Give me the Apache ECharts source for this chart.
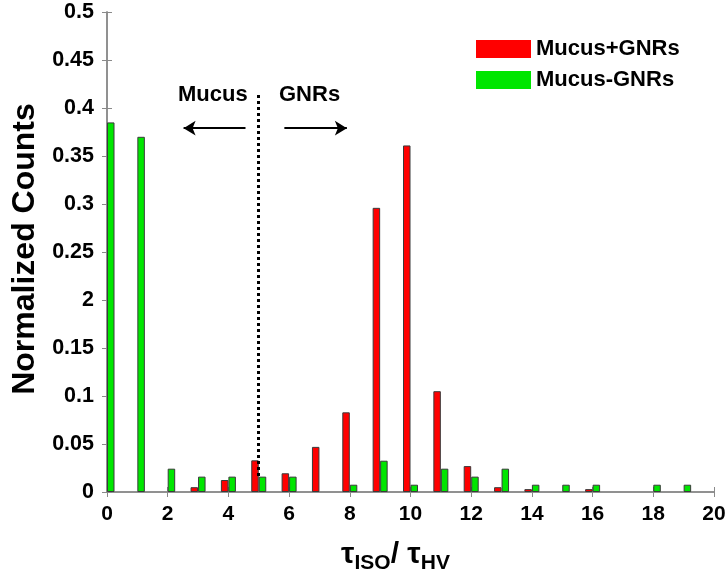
<!DOCTYPE html>
<html>
<head>
<meta charset="utf-8">
<title>Normalized Counts</title>
<script src="https://cdn.jsdelivr.net/npm/echarts@6/dist/echarts.min.js"></script>
<style>
  html, body { margin: 0; padding: 0; background: #fff; }
  #main { width: 728px; height: 573px; }
</style>
</head>
<body>
<div id="main"></div>
<script>
// tau ratio bins
var bins = [0, 1, 2, 3, 4, 5, 6, 7, 8, 9, 10, 11, 12, 13, 14, 15, 16, 17, 18, 19];
// Mucus+GNRs
var withGNRs = [0, 0, 0, 0.005, 0.0125, 0.033, 0.0195, 0.047, 0.083, 0.296,
                0.361, 0.105, 0.027, 0.005, 0.003, 0, 0.003, 0, 0, 0];
// Mucus-GNRs
var withoutGNRs = [0.385, 0.370, 0.0243, 0.016, 0.016, 0.016, 0.016, 0, 0.0076, 0.0326,
                   0.0076, 0.0243, 0.016, 0.0243, 0.0076, 0.0076, 0.0076, 0, 0.0076, 0.0076];
// y tick labels as printed (the 0.2 tick reads "2" in the original)
var yTickLabels = ['0', '0.05', '0.1', '0.15', '2', '0.25', '0.3', '0.35', '0.4', '0.45', '0.5'];

function pairs(vals) {
  return bins.map(function (b, i) { return vals[i] ? [b, vals[i]] : [b, null]; });
}

var chart = echarts.init(document.getElementById('main'));
var font = 'Liberation Sans, Arial, sans-serif';
var axisGray = '#8a8a8a';

var option = {
  animation: false,
  textStyle: { fontFamily: font },
  grid: { left: 107, right: 14, top: 12, bottom: 81, outerBoundsMode: 'none' },
  legend: {
    left: 471, top: 33, orient: 'vertical',
    itemWidth: 55, itemHeight: 18, itemGap: 9,
    icon: 'rect',
    itemStyle: { borderWidth: 0 },
    textStyle: { fontSize: 22, fontWeight: 'bold', color: '#000', fontFamily: font },
    data: ['Mucus+GNRs', 'Mucus-GNRs']
  },
  xAxis: [{
    type: 'value', min: 0, max: 20, interval: 2,
    axisLine: { show: true, lineStyle: { color: axisGray, width: 1.5 } },
    axisTick: { show: true, inside: true, length: 5, lineStyle: { color: axisGray } },
    splitLine: { show: false },
    axisLabel: { fontSize: 21, fontWeight: 'bold', color: '#000', margin: 12, fontFamily: font },
    name: '{t|τ}{s|ISO}{t|/ τ}{s|HV}',
    nameLocation: 'middle', nameGap: 48,
    nameTextStyle: {
      padding: [0, 30, 0, 0],
      rich: {
        t: { fontSize: 30, fontWeight: 'bold', color: '#000', fontFamily: font, verticalAlign: 'top', lineHeight: 30 },
        s: { fontSize: 21, fontWeight: 'bold', color: '#000', fontFamily: font, verticalAlign: 'top', padding: [13, 0, 0, 0], lineHeight: 21 }
      }
    }
  }, {
    type: 'value', min: 0, max: 20, interval: 2, position: 'top',
    axisLine: { show: true, lineStyle: { color: axisGray, width: 1.5 } },
    axisTick: { show: true, inside: true, length: 5, lineStyle: { color: axisGray } },
    splitLine: { show: false },
    axisLabel: { show: false }
  }],
  yAxis: [{
    type: 'value', min: 0, max: 0.5, interval: 0.05,
    axisLine: { show: true, lineStyle: { color: axisGray, width: 1.5 } },
    axisTick: { show: true, inside: true, length: 5, lineStyle: { color: axisGray } },
    splitLine: { show: false },
    axisLabel: {
      fontSize: 21.5, fontWeight: 'bold', color: '#000', margin: 13, fontFamily: font,
      formatter: function (v) { return yTickLabels[Math.round(v / 0.05)]; }
    },
    name: 'Normalized Counts',
    nameLocation: 'middle', nameGap: 60, nameRotate: 90,
    nameTextStyle: { fontSize: 32, fontWeight: 'bold', color: '#000', fontFamily: font, padding: [0, 0, 0, 6] }
  }, {
    type: 'value', min: 0, max: 0.5, interval: 0.05, position: 'right',
    axisLine: { show: true, lineStyle: { color: axisGray, width: 1.5 } },
    axisTick: { show: true, inside: true, length: 5, lineStyle: { color: axisGray } },
    splitLine: { show: false },
    axisLabel: { show: false }
  }],
  series: [{
    name: 'Mucus+GNRs',
    type: 'bar',
    barWidth: 7.5,
    barGap: '0%',
    data: pairs(withGNRs),
    itemStyle: { color: '#ff0000', borderColor: '#3a3a3a', borderWidth: 1 },
    markLine: {
      silent: true,
      symbol: 'none',
      label: { show: false },
      lineStyle: { color: '#000', type: [3, 3], width: 3, cap: 'butt' },
      data: [
        // divider between the two regimes, stops at the top of the green bar under it
        [{ coord: [5.12, 0.4135] }, { coord: [5.12, withoutGNRs[5]] }]
      ]
    }
  }, {
    name: 'Mucus-GNRs',
    type: 'bar',
    barWidth: 7.5,
    barGap: '0%',
    data: pairs(withoutGNRs),
    itemStyle: { color: '#00e600', borderColor: '#3a3a3a', borderWidth: 1 },
    markLine: {
      silent: true,
      label: { show: false },
      symbolSize: [11, 12],
      lineStyle: { color: '#000', type: 'solid', width: 2 },
      data: [
        [{ coord: [4.44, 0.379], symbol: 'none' }, { coord: [2.40, 0.379], symbol: 'arrow' }],
        [{ coord: [5.72, 0.379], symbol: 'none' }, { coord: [7.78, 0.379], symbol: 'arrow' }]
      ]
    }
  }],
  graphic: [
    { type: 'text', left: 178, top: 84, style: { text: 'Mucus', font: 'bold 22px ' + font, fill: '#000' } },
    { type: 'text', left: 279, top: 84, style: { text: 'GNRs', font: 'bold 22px ' + font, fill: '#000' } }
  ]
};

chart.setOption(option);
</script>
</body>
</html>
